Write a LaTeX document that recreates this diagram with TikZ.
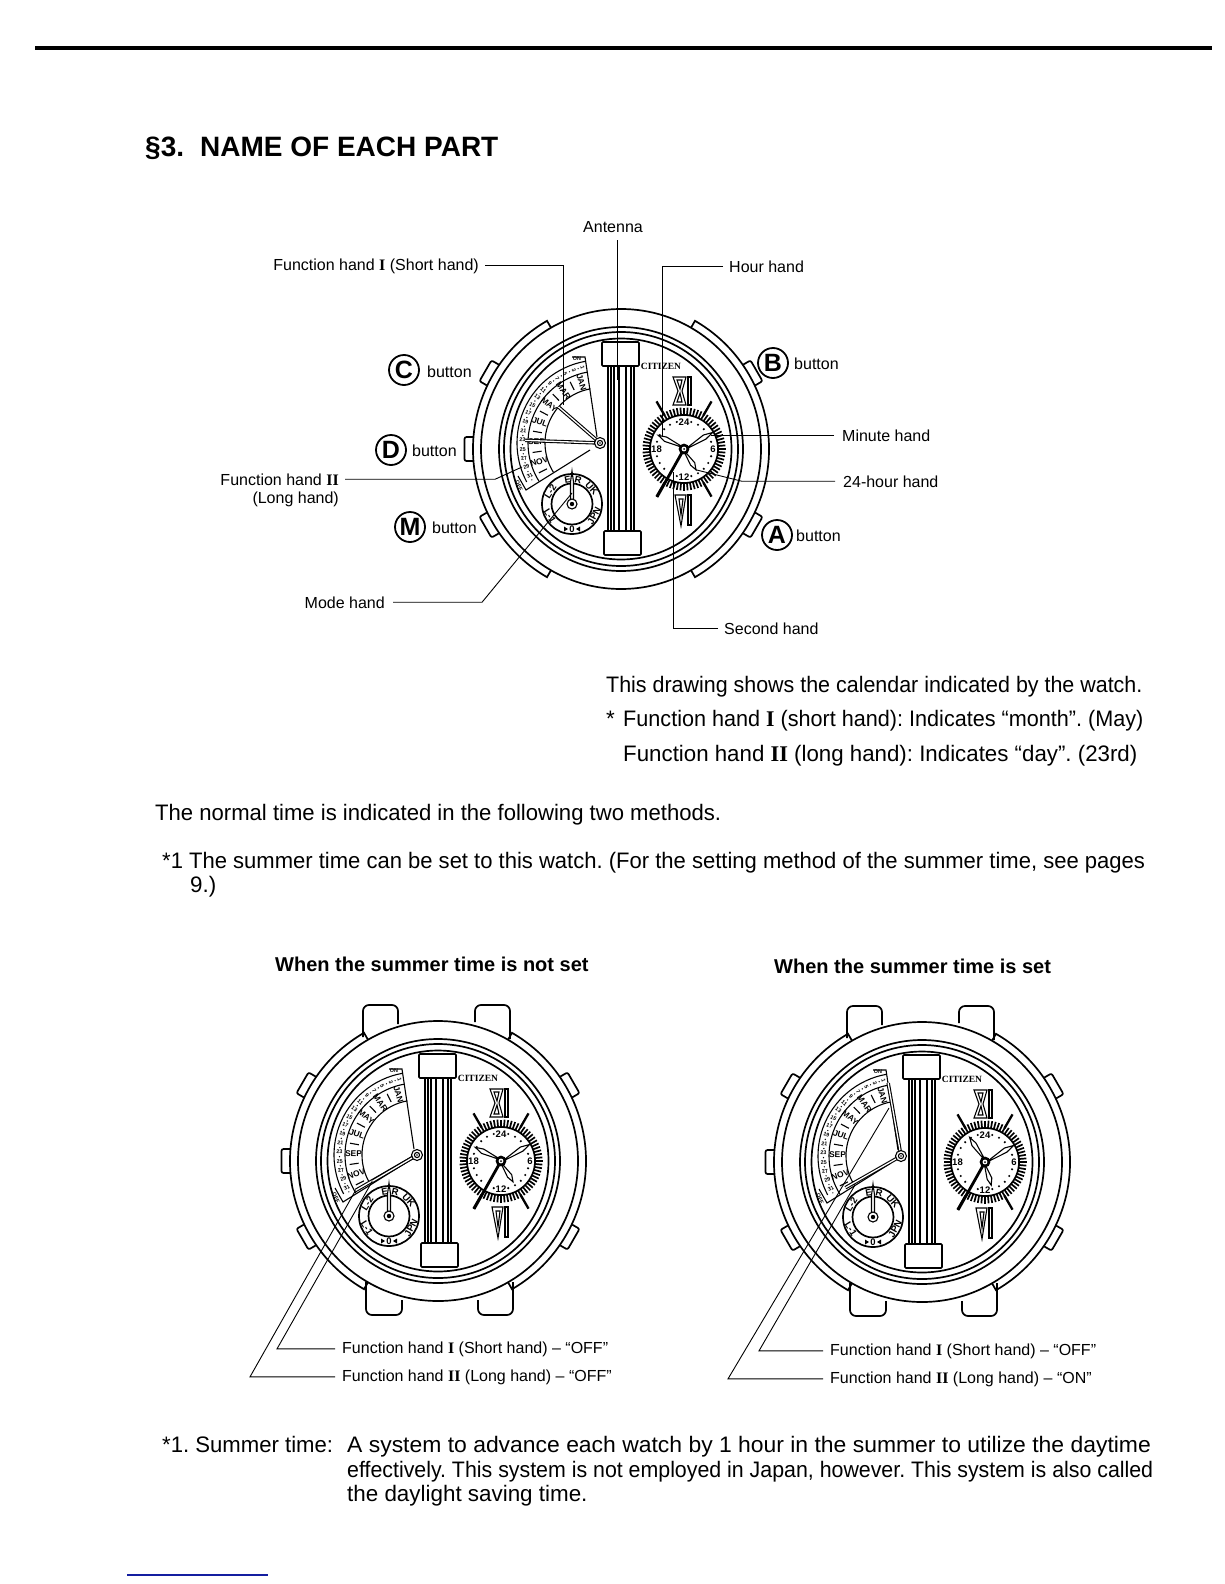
\documentclass[tikz,border=0pt]{standalone}
\usepackage{graphicx}
\usepackage{fontspec}
\setmainfont{Liberation Sans}
\newfontfamily\romfont{Liberation Serif}
\frenchspacing
\definecolor{edgeblue}{RGB}{20,30,160}
\newcommand{\fnone}{{\romfont\bfseries I}}
\newcommand{\fntwo}{{\romfont\bfseries II}}
% narrows a printed line to the width it has on the page
\newcommand{\squeezed}[2]{\scalebox{#1}[1]{#2}}
\tikzset{
  watchline/.style={line width=1.7pt},
  thinline/.style={line width=1.1pt},
  leaderline/.style={line width=0.9pt},
  partlabel/.style={inner sep=0pt,font=\fontsize{16}{19}\selectfont},
  bodytext/.style={inner sep=0pt,anchor=base west,font=\fontsize{22.4}{26}\selectfont},
  headtext/.style={inner sep=0pt,anchor=base west,font=\fontsize{20}{24}\selectfont\bfseries},
  bigletter/.style={circle,draw,line width=1.8pt,minimum size=30pt,inner sep=0pt,font=\fontsize{25}{27}\selectfont\bfseries},
  monthlabel/.style={inner sep=0pt,font=\fontsize{8.4}{9}\selectfont\bfseries},
  datelabel/.style={inner sep=0pt,font=\fontsize{5.4}{6}\selectfont\bfseries},
  numlabel/.style={inner sep=0pt,font=\fontsize{9.5}{10}\selectfont\bfseries},
  dialmark/.style={inner sep=0pt,font=\fontsize{9.5}{10}\selectfont\bfseries},
  brandlabel/.style={inner sep=0pt,font=\romfont\fontsize{9.5}{10}\selectfont\bfseries},
}
% white kite-shaped hand, angle and length
\newcommand{\kitehand}[2]{\draw[thinline,fill=white,rotate=#1] (0,-1) -- (0.72*#2,2.4) -- (#2,0) -- (0.72*#2,-2.4) -- cycle;}
% case with rings and the five buttons
\newcommand{\watchcase}{
  \draw[watchline] (0,0) circle (140);
  \draw[watchline] (0,0) circle (122);
  \draw[watchline] (0,0) circle (117);
  \draw[watchline] (0,0) circle (110.5);
  \draw[watchline] (120:140) -- (120:148) arc (120:240:148) -- (240:140);
  \draw[watchline] (60:140) -- (60:148) arc (60:-60:148) -- (-60:140);
  \foreach \ang in {30,150,180,210,-30} {
    \draw[watchline,rotate=\ang,rounded corners=2] (148,-12) -- (156.5,-12) -- (156.5,12) -- (148,12);
  }
}
% lugs of the two lower watches
\newcommand{\watchlugs}{
  \draw[watchline,rounded corners=6] (-75,124) -- (-75,156) -- (-40,156) -- (-40,137);
  \draw[watchline,rounded corners=6] (37,139) -- (37,156) -- (72,156) -- (72,122);
  \draw[watchline,rounded corners=6] (-72,-121) -- (-72,-154) -- (-36,-154) -- (-36,-139);
  \draw[watchline,rounded corners=6] (40,-139) -- (40,-154) -- (75,-154) -- (75,-121);
}
% antenna bar in the middle
\newcommand{\antennabar}{
  \draw[watchline,rounded corners=1] (-19,83) rectangle (18,107);
  \draw[watchline,rounded corners=1] (-17,-82) rectangle (20,-106);
  \foreach \xb in {-13,-10,-7,-2,5,10,13} {
    \draw[watchline] (\xb,83) -- (\xb,-82);
  }
  \node[brandlabel] (brand) at (40,83) {CITIZEN};
}
% 24-hour dial: hour angle, 24-hour angle, prefix
\newcommand{\timedial}[3]{
  \begin{scope}[shift={(63,0)}]
    \foreach \ang in {0,5,...,355} {
      \draw[line width=1.7pt] (\ang:34) -- (\ang:41.5);
    }
    \draw[watchline] (0,0) circle (34);
    \foreach \ang in {60,120,240,300} {
      \draw[line width=2.3pt] (\ang:39) -- (\ang:55);
    }
    % roman numerals
    \draw[thinline] (-11,72) -- (2,72) -- (-2,58) -- (2,44) -- (-11,44) -- (-6,58) -- cycle;
    \draw[thinline] (-7,69) -- (-2,69) -- (-4,60) -- cycle;
    \draw[thinline] (-7,47) -- (-2,47) -- (-4,56) -- cycle;
    \fill (3,73) rectangle (8,43);
    \draw[white,line width=0.7pt] (5.4,71) -- (5.4,45);
    \draw[thinline] (-9,-46) -- (2,-46) -- (-3,-77) -- cycle;
    \draw[thinline] (-5,-50) -- (-1,-50) -- (-3,-66) -- cycle;
    \fill (3,-45) rectangle (8,-77);
    \draw[white,line width=0.7pt] (5.4,-47) -- (5.4,-75);
    \node[numlabel] (#3dialtop) at (0,27) {24};
    \node[numlabel] (#3dialright) at (29,0) {6};
    \node[numlabel] (#3dialbottom) at (0,-28) {12};
    \node[numlabel] (#3dialleft) at (-27.5,0) {18};
    \foreach \ang in {15,30,...,75,105,120,...,165,195,210,...,255,285,300,...,345} {
      \fill (\ang:28) circle (1.2);
    }
    \kitehand{#1}{29}
    \kitehand{30}{33}
    \kitehand{#2}{24}
    \draw[line width=2.8pt] (0,0) -- (-27,-48);
    \fill (0,0) circle (5.4);
    \fill[white] (0,0) circle (2.4);
    \fill (0,0) circle (1);
    \coordinate (#3hourtip) at (#1:27);
    \coordinate (#3minutetip) at (30:31);
    \coordinate (#3daytip) at (#2:24);
    \coordinate (#3secondpt) at (-11,-23);
  \end{scope}
}
% calendar sector: long angle, long length, short angle, short length, prefix
\newcommand{\calendarfan}[5]{
  \begin{scope}[shift={(-21,6)}]
    \draw[thinline] (100:83) arc (100:208:83);
    \draw[thinline] (100:72) arc (100:212:72);
    \draw[thinline] (100:55) arc (100:212:55);
    \draw[thinline] (-3,6) -- (-15,86) -- (-28,86);
    \draw[thinline] (-10,-7) -- (-74,-47) -- (-82,-33);
    \node[datelabel] (#5on) at (-23,84) {ON};
    \node[datelabel,rotate=-65] (#5off) at (-81,-43) {OFF};
    \foreach \ang/\mon in {107/JAN,125/MAR,143/MAY,161/JUL,179/SEP,197/NOV} {
      \node[monthlabel,rotate={\ang-180}] at (\ang:63.5) {\mon};
    }
    \foreach \ang in {116,134,152,170,188,206} {
      \draw[line width=1.1pt] (\ang:59) -- (\ang:68);
    }
    \foreach \dd [count=\nn from 0] in {1,3,5,7,9,11,13,15,17,19,21,23,25,27,29,31} {
      \node[datelabel,rotate={103+6.8*\nn-180}] at ({103+6.8*\nn}:77.5) {\dd};
      \fill ({106.4+6.8*\nn}:77.5) circle (0.7);
    }
    \draw[double,double distance=1.3pt,line width=1.1pt] (0,0) -- (#1:#2);
    \draw[double,double distance=1.3pt,line width=1.1pt] (0,0) -- (#3:#4);
    \draw[thinline,fill=white] (0,0) circle (5.5);
    \draw[thinline] (0,0) circle (2.6);
    \fill (0,0) circle (0.8);
    \coordinate (#5longtip) at (#1:#2);
    \coordinate (#5shorttip) at (#3:#4);
  \end{scope}
}
% mode dial, lower left of the face
\newcommand{\modedial}[1]{
  \begin{scope}[shift={(-49,-55)}]
    \draw[watchline] (0,0) circle (30);
    \draw[watchline] (0,0) circle (20.5);
    \node[dialmark,rotate=10] (#1me) at (100:25) {E};
    \node[dialmark,rotate=-12] (#1mr) at (76:25) {R};
    \node[dialmark,rotate=-48] (#1muk) at (38:25) {UK};
    \node[dialmark,rotate=62] (#1mjp) at (-28:25) {JPN};
    \node[dialmark] (#1mo) at (0,-25) {0};
    \node[dialmark,rotate=-58] (#1mla) at (208:25) {L-1};
    \node[dialmark,rotate=58] (#1mlb) at (150:25) {L-2};
    \fill (-8,-27.5) -- (-8,-22.5) -- (-4,-25) -- cycle;
    \fill (8,-27.5) -- (8,-22.5) -- (4,-25) -- cycle;
    \draw[thinline,fill=white] (-1.5,0) -- (-1.5,22) -- (0,33) -- (1.5,22) -- (1.5,0) -- cycle;
    \draw[thinline,fill=white] (0,0) circle (5);
    \fill (0,0) circle (2.2);
    \coordinate (#1modetip) at (0,11);
  \end{scope}
}
\begin{document}
\begin{tikzpicture}[x=1pt,y=1pt]
\useasboundingbox (0,0) rectangle (1224,-1584);
\draw[line width=4pt] (35,-48) -- (1212,-48);
\node[inner sep=0pt,anchor=base west,font=\fontsize{28}{32}\selectfont\bfseries] (secnum) at (145,-156) {§3.};
\node[inner sep=0pt,anchor=base west,font=\fontsize{28}{32}\selectfont\bfseries] (sectitle) at (200,-156) {NAME OF EACH PART};

% upper watch
\begin{scope}[shift={(621,-449)}]
  \watchcase
  \antennabar
  \timedial{152}{-60}{up}
  \calendarfan{178}{75}{139}{55}{up}
  \modedial{up}
\end{scope}

\node[bigletter] (btnc) at (404,-370) {C};
\node[partlabel,anchor=base west] (txtc) at (427,-377) {button};
\node[bigletter] (btnd) at (391,-450) {D};
\node[partlabel,anchor=base west] (txtd) at (412,-456) {button};
\node[bigletter] (btnm) at (410,-527) {M};
\node[partlabel,anchor=base west] (txtm) at (432,-533) {button};
\node[bigletter] (btnb) at (773,-363) {B};
\node[partlabel,anchor=base west] (txtb) at (794,-369) {button};
\node[bigletter] (btna) at (777,-535) {A};
\node[partlabel,anchor=base west] (txta) at (796,-541) {button};

\node[partlabel,anchor=base] (lblantenna) at (613,-232) {Antenna};
\node[partlabel,anchor=base east] (lblshort) at (479,-270) {Function hand \fnone{} (Short hand)};
\node[partlabel,anchor=base east] (lbllong) at (339,-485) {Function hand \fntwo};
\node[partlabel,anchor=base east] (lbllongb) at (339,-503) {(Long hand)};
\node[partlabel,anchor=base east] (lblmode) at (385,-608) {Mode hand};
\node[partlabel,anchor=base west] (lblhour) at (729,-272) {Hour hand};
\node[partlabel,anchor=base west] (lblminute) at (842,-441) {Minute hand};
\node[partlabel,anchor=base west] (lblday) at (843,-487) {24-hour hand};
\node[partlabel,anchor=base west] (lblsecond) at (724,-634) {Second hand};

\coordinate (antennatop) at (617,-240);
\coordinate (antennaend) at (617,-380);
\coordinate (shortelbow) at (563,-265);
\coordinate (shortend) at (563,-405);
\coordinate (hourelbow) at (662,-266);
\coordinate (hourend) at (662,-437);
\coordinate (dayelbow) at (742,-482);
\coordinate (secondelbow) at (673,-628);
\coordinate (longelbow) at (495,-481);
\coordinate (longend) at (522,-467);
\coordinate (modeelbow) at (482,-602);

\draw[leaderline] (antennatop) -- (antennaend);
\draw[leaderline,shorten <=6pt] (lblshort.east) -- (lblshort.east -| shortelbow) -- (shortend);
\draw[leaderline,shorten <=6pt] (lblhour.west) -- (lblhour.west -| hourelbow) -- (hourend);
\draw[leaderline,shorten <=8pt] (lblminute.west) -- (lblminute.west -| upminutetip);
\draw[leaderline,shorten <=8pt] (lblday.west) -- (lblday.west -| dayelbow) -- (updaytip);
\draw[leaderline,shorten <=6pt] (lblsecond.west) -- (lblsecond.west -| secondelbow) -- (upsecondpt);
\draw[leaderline,shorten <=6pt] (lbllong.east) -- (lbllong.east -| longelbow) -- (longend);
\draw[leaderline,shorten <=8pt] (lblmode.east) -- (lblmode.east -| modeelbow) -- (upmodetip);

% text under the upper watch
\node[bodytext] (parta) at (606,-692) {\squeezed{0.957}{This drawing shows the calendar indicated by the watch.}};
\node[bodytext] (partb) at (606,-726) {*};
\node[bodytext] (partc) at (623,-726) {\squeezed{0.965}{Function hand \fnone{} (short hand): Indicates “month”. (May)}};
\node[bodytext] (partd) at (623,-761) {\squeezed{0.995}{Function hand \fntwo{} (long hand): Indicates “day”. (23rd)}};
\node[bodytext] (parte) at (155,-820) {\squeezed{0.986}{The normal time is indicated in the following two methods.}};
\node[bodytext] (partf) at (162,-868) {\squeezed{0.983}{*1 The summer time can be set to this watch. (For the setting method of the summer time, see pages}};
\node[bodytext] (partg) at (190,-892) {9.)};

\node[headtext] (headoff) at (275,-971) {When the summer time is not set};
\node[headtext] (headon) at (774,-973) {When the summer time is set};

% lower left watch
\begin{scope}[shift={(438,-1161)}]
  \watchlugs
  \watchcase
  \antennabar
  \timedial{152}{-60}{lf}
  \calendarfan{210}{71}{210.5}{52}{lf}
  \modedial{lf}
\end{scope}

% lower right watch
\begin{scope}[shift={(922,-1162)}]
  \watchlugs
  \watchcase
  \antennabar
  \timedial{122}{-75}{rt}
  \calendarfan{100}{74}{209.7}{64}{rt}
  \modedial{rt}
\end{scope}

\node[partlabel,anchor=base west] (lblshortl) at (342,-1353) {Function hand \fnone{} (Short hand) – “OFF”};
\node[partlabel,anchor=base west] (lbllongl) at (342,-1381) {Function hand \fntwo{} (Long hand) – “OFF”};
\node[partlabel,anchor=base west] (lblshortr) at (830,-1355) {Function hand \fnone{} (Short hand) – “OFF”};
\node[partlabel,anchor=base west] (lbllongr) at (830,-1383) {Function hand \fntwo{} (Long hand) – “ON”};

\coordinate (shortlelbow) at (277,-1348);
\coordinate (longlelbow) at (250,-1377);
\coordinate (shortrelbow) at (759,-1350);
\coordinate (longrelbow) at (728,-1378);
\coordinate (rtshortend) at (855,-1185);
\coordinate (rtlongend) at (889,-1108);

\draw[leaderline,shorten <=7pt] (lblshortl.west) -- (lblshortl.west -| shortlelbow) -- (lfshorttip);
\draw[leaderline,shorten <=7pt] (lbllongl.west) -- (lbllongl.west -| longlelbow) -- (lflongtip);
\draw[leaderline,shorten <=7pt] (lblshortr.west) -- (lblshortr.west -| shortrelbow) -- (rtshortend);
\draw[leaderline,shorten <=7pt] (lbllongr.west) -- (lbllongr.west -| longrelbow) -- (rtlongend);

% footnote
\node[bodytext] (notea) at (162,-1452) {\squeezed{0.988}{*1. Summer time:}};
\node[bodytext] (noteb) at (347,-1452) {\squeezed{1.023}{A system to advance each watch by 1 hour in the summer to utilize the daytime}};
\node[bodytext] (notec) at (347,-1477) {\squeezed{0.953}{effectively. This system is not employed in Japan, however. This system is also called}};
\node[bodytext] (noted) at (347,-1501) {the daylight saving time.};

\draw[line width=1.5pt,edgeblue] (127,-1575) -- (268,-1575);
\end{tikzpicture}
\end{document}
